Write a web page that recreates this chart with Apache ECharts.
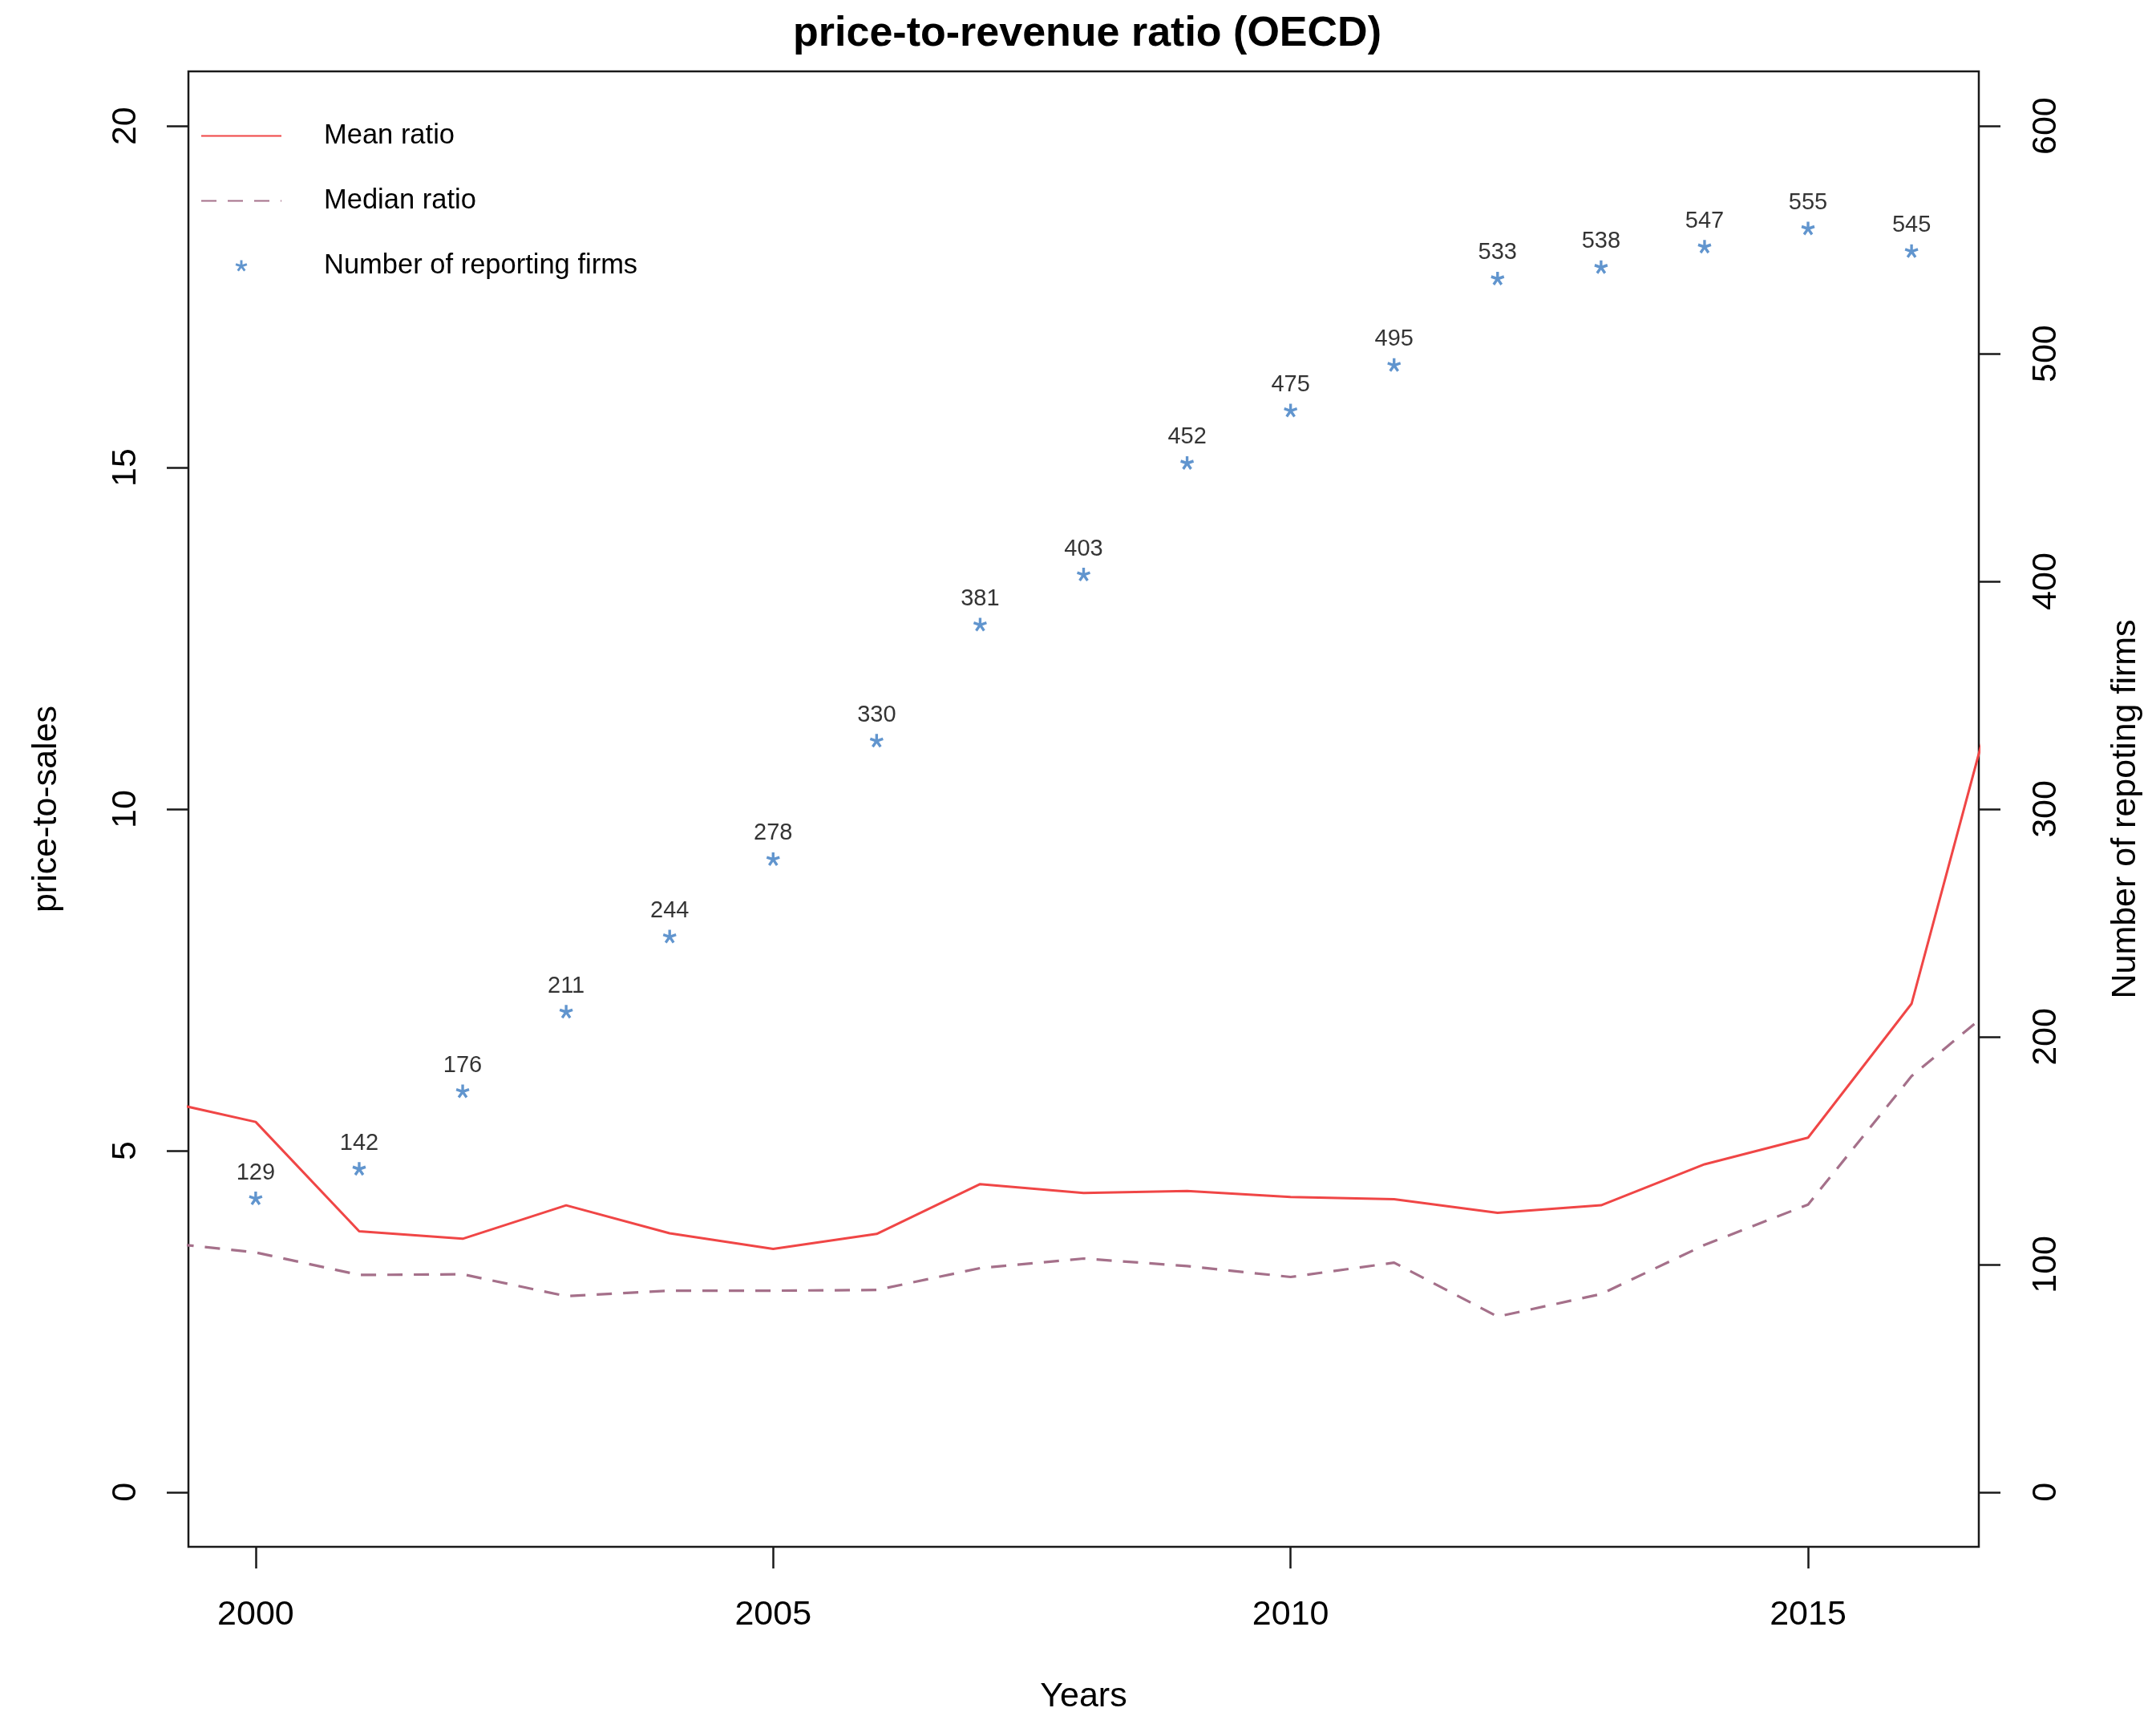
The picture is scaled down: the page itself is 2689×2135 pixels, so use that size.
<!DOCTYPE html>
<html>
<head>
<meta charset="utf-8">
<title>price-to-revenue ratio (OECD)</title>
<script src="https://cdn.jsdelivr.net/npm/echarts@6/dist/echarts.min.js"></script>
<style>
  html, body { margin: 0; padding: 0; background: #ffffff; }
  #chart { width: 2689px; height: 2135px; }
</style>
</head>
<body>
<div id="chart"></div>
<script>
// Years covered by the ratio lines (first and last year only partly inside the plot window)
const ratioYears = [1999, 2000, 2001, 2002, 2003, 2004, 2005, 2006, 2007, 2008, 2009, 2010, 2011, 2012, 2013, 2014, 2015, 2016, 2017];
const meanRatio = [5.76, 5.42, 3.82, 3.71, 4.20, 3.79, 3.56, 3.78, 4.51, 4.38, 4.41, 4.32, 4.29, 4.09, 4.20, 4.80, 5.19, 7.15, 12.78];
const medianRatio = [3.67, 3.51, 3.18, 3.19, 2.87, 2.95, 2.95, 2.96, 3.28, 3.42, 3.31, 3.15, 3.36, 2.57, 2.90, 3.62, 4.21, 6.09, 7.35];

// Number of reporting firms per year
const firmYears = [2000, 2001, 2002, 2003, 2004, 2005, 2006, 2007, 2008, 2009, 2010, 2011, 2012, 2013, 2014, 2015, 2016];
const firmCounts = [129, 142, 176, 211, 244, 278, 330, 381, 403, 452, 475, 495, 533, 538, 547, 555, 545];

// Tick positions
const xTicks = [2000, 2005, 2010, 2015];
const leftTicks = [0, 5, 10, 15, 20];
const rightTicks = [0, 100, 200, 300, 400, 500, 600];

const FONT = '"Liberation Sans", Arial, Helvetica, sans-serif';
const INK = '#1a1a1a';

// Five-armed asterisk marker built as a filled path
function asteriskPath(arms, r, w) {
  let d = '';
  for (let i = 0; i < arms; i++) {
    const a = (-90 + i * 360 / arms) * Math.PI / 180;
    const dx = Math.cos(a), dy = Math.sin(a);
    const nx = -dy, ny = dx;
    const p = [
      [nx * w, ny * w],
      [nx * w + dx * r, ny * w + dy * r],
      [-nx * w + dx * r, -ny * w + dy * r],
      [-nx * w, -ny * w]
    ].map(q => (q[0] + 12).toFixed(3) + ' ' + (q[1] + 12).toFixed(3));
    d += 'M' + p[0] + 'L' + p[1] + 'L' + p[2] + 'L' + p[3] + 'Z';
  }
  return 'path://' + d;
}
const STAR = asteriskPath(5, 10, 2.0);

const pairs = (xs, ys) => xs.map((x, i) => [x, ys[i]]);
const plain = v => String(v);

const chart = echarts.init(document.getElementById('chart'), null, { renderer: 'canvas' });

const axisTickStyle = { show: true, inside: false, length: 27, lineStyle: { color: INK, width: 2.5 } };

const option = {
  backgroundColor: '#ffffff',
  animation: false,
  textStyle: { fontFamily: FONT },
  title: {
    text: 'price-to-revenue ratio (OECD)',
    left: 1351,
    top: 12,
    textAlign: 'center',
    textStyle: { fontFamily: FONT, fontSize: 52, fontWeight: 'bold', color: '#000' }
  },
  grid: {
    left: 235, right: 221, top: 89, bottom: 206,
    show: true, borderColor: INK, borderWidth: 2.5,
    backgroundColor: 'transparent',
    containLabel: false,
    outerBoundsMode: 'none'
  },
  legend: {
    orient: 'vertical',
    left: 250,
    top: 152,
    padding: 0,
    itemWidth: 100,
    itemHeight: 14,
    itemGap: 46,
    textStyle: { fontFamily: FONT, fontSize: 34.5, color: '#000', lineHeight: 35, padding: [0, 0, 0, 48] },
    data: [
      { name: 'Mean ratio', itemStyle: { opacity: 0 } },
      { name: 'Median ratio', itemStyle: { opacity: 0 } },
      { name: 'Number of reporting firms' }
    ]
  },
  xAxis: {
    type: 'value',
    min: 1999.35,
    max: 2016.65,
    name: 'Years',
    nameLocation: 'middle',
    nameGap: 166,
    nameMoveOverlap: false,
    nameTextStyle: { fontFamily: FONT, fontSize: 43, color: '#000' },
    axisLine: { show: false, onZero: false },
    splitLine: { show: false },
    axisTick: Object.assign({ customValues: xTicks }, axisTickStyle),
    axisLabel: { customValues: xTicks, formatter: plain, margin: 64, fontSize: 43, color: '#000', fontFamily: FONT }
  },
  yAxis: [
    {
      type: 'value',
      position: 'left',
      min: -0.8,
      max: 20.8,
      name: 'price-to-sales',
      nameLocation: 'middle',
      nameRotate: 90,
      nameGap: 155,
      nameMoveOverlap: false,
      nameTextStyle: { fontFamily: FONT, fontSize: 43, color: '#000' },
      axisLine: { show: false, onZero: false },
      splitLine: { show: false },
      axisTick: Object.assign({ customValues: leftTicks }, axisTickStyle),
      axisLabel: { customValues: leftTicks, formatter: plain, rotate: 90, margin: 56, fontSize: 43, color: '#000', fontFamily: FONT }
    },
    {
      type: 'value',
      position: 'right',
      min: -24,
      max: 624,
      name: 'Number of repoting firms',
      nameLocation: 'middle',
      nameRotate: 90,
      nameGap: 162,
      nameMoveOverlap: false,
      nameTextStyle: { fontFamily: FONT, fontSize: 43, color: '#000' },
      axisLine: { show: false, onZero: false },
      splitLine: { show: false },
      axisTick: Object.assign({ customValues: rightTicks }, axisTickStyle),
      axisLabel: { customValues: rightTicks, formatter: plain, rotate: 90, margin: 63, fontSize: 43, color: '#000', fontFamily: FONT }
    }
  ],
  series: [
    {
      name: 'Mean ratio',
      type: 'line',
      yAxisIndex: 0,
      data: pairs(ratioYears, meanRatio),
      showSymbol: false,
      symbol: 'none',
      clip: true,
      lineStyle: { color: '#F04646', width: 3, type: 'solid' },
      itemStyle: { color: '#F04646' },
      z: 2
    },
    {
      name: 'Median ratio',
      type: 'line',
      yAxisIndex: 0,
      data: pairs(ratioYears, medianRatio),
      showSymbol: false,
      symbol: 'none',
      clip: true,
      lineStyle: { color: '#A5708A', width: 3.2, type: [19, 14] },
      itemStyle: { color: '#A5708A' },
      z: 2
    },
    {
      name: 'Number of reporting firms',
      type: 'scatter',
      yAxisIndex: 1,
      data: pairs(firmYears, firmCounts),
      symbol: STAR,
      symbolSize: 17,
      itemStyle: { color: '#3A7BC2' },
      label: {
        show: true,
        position: 'top',
        distance: 9,
        fontFamily: FONT,
        fontSize: 29,
        color: '#000',
        formatter: p => String(p.value[1])
      },
      z: 3
    }
  ]
};

chart.setOption(option);
</script>
</body>
</html>
